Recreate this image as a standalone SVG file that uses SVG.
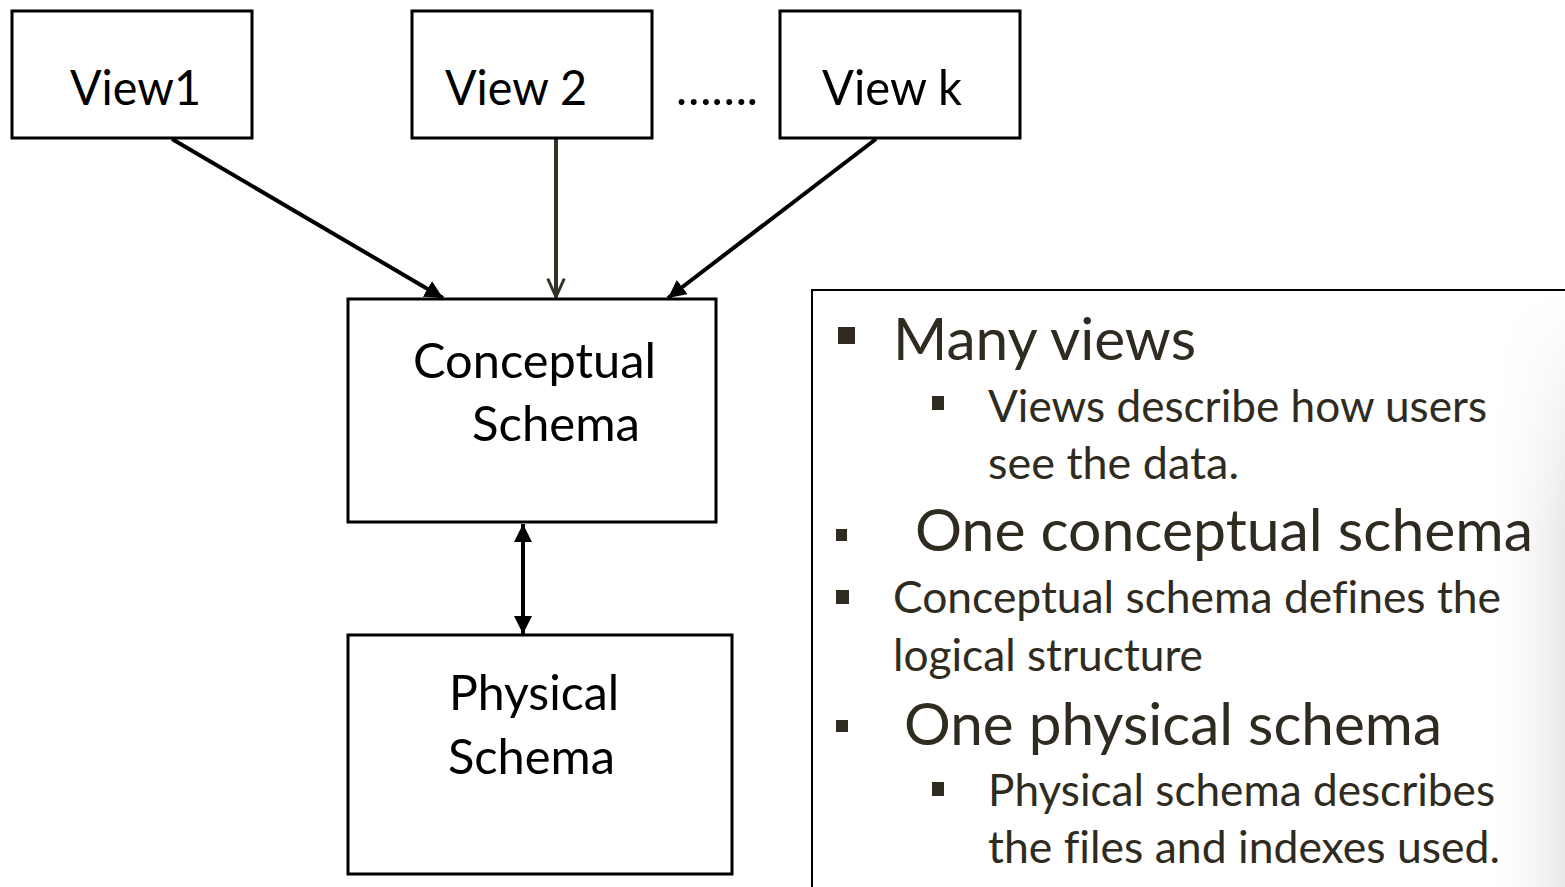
<svg xmlns="http://www.w3.org/2000/svg" width="1565" height="887" viewBox="0 0 1565 887">
<style>
.box{fill:#fff;stroke:#000;stroke-width:3}
.lbl{font-family:Lato,"Open Sans","Liberation Sans",sans-serif;font-size:49px;fill:#000;font-variant-ligatures:none}
.txt{font-family:Lato,"Open Sans","Liberation Sans",sans-serif;fill:#2f2b20;font-variant-ligatures:none}
.big{font-size:58px}
.sm{font-size:44px}
.bul{fill:#2f2b20}
.conn{fill:none;stroke-width:4}
</style>
<defs>
<linearGradient id="fade" x1="0" y1="0" x2="1" y2="0">
<stop offset="0" stop-color="#ffffff" stop-opacity="0"/>
<stop offset="1" stop-color="#e8e8e8" stop-opacity="1"/>
</linearGradient>
<linearGradient id="fadeV" x1="0" y1="0" x2="0" y2="1">
<stop offset="0" stop-color="#fff" stop-opacity="1"/>
<stop offset="1" stop-color="#fff" stop-opacity="0"/>
</linearGradient>
<marker id="solid" viewBox="0 0 10 10" refX="10" refY="5" markerWidth="4.5" markerHeight="4.5" orient="auto-start-reverse" markerUnits="strokeWidth">
<path d="M0,0 L10,5 L0,10 z" fill="#000"/>
</marker>
<marker id="open" viewBox="0 0 12 12" refX="11" refY="6" markerWidth="5.5" markerHeight="5.5" orient="auto" markerUnits="strokeWidth">
<path d="M1,1.5 L11,6 L1,10.5" fill="none" stroke="#333028" stroke-width="1.6"/>
</marker>
</defs>
<rect width="1565" height="887" fill="#fff"/>

<g id="connectors">
<line class="conn" stroke="#000" x1="172" y1="139" x2="443" y2="298" marker-end="url(#solid)"/>
<line class="conn" stroke="#333028" x1="556" y1="139" x2="556" y2="297" marker-end="url(#open)"/>
<line class="conn" stroke="#000" x1="876" y1="139" x2="668" y2="298" marker-end="url(#solid)"/>
<line class="conn" stroke="#000" x1="523" y1="524" x2="523" y2="634" marker-start="url(#solid)" marker-end="url(#solid)"/>
</g>

<g id="view1">
<rect class="box" x="12" y="11" width="240" height="127"/>
<text class="lbl" x="70" y="105" textLength="131" lengthAdjust="spacingAndGlyphs">View1</text>
</g>
<g id="view2">
<rect class="box" x="412" y="11" width="240" height="127"/>
<text class="lbl" x="445" y="105" textLength="142" lengthAdjust="spacingAndGlyphs">View 2</text>
</g>
<g id="dots">
<text class="lbl" x="676" y="105" textLength="82" lengthAdjust="spacingAndGlyphs">…….</text>
</g>
<g id="viewk">
<rect class="box" x="780" y="11" width="240" height="127"/>
<text class="lbl" x="822" y="105" textLength="140" lengthAdjust="spacingAndGlyphs">View k</text>
</g>
<g id="conceptual">
<rect class="box" x="348" y="299" width="368" height="223"/>
<text class="lbl" x="413" y="378" textLength="243" lengthAdjust="spacingAndGlyphs">Conceptual</text>
<text class="lbl" x="472" y="441" textLength="168" lengthAdjust="spacingAndGlyphs">Schema</text>
</g>
<g id="physical">
<rect class="box" x="348" y="635" width="384" height="239"/>
<text class="lbl" x="449" y="710" textLength="170" lengthAdjust="spacingAndGlyphs">Physical</text>
<text class="lbl" x="448" y="774" textLength="167" lengthAdjust="spacingAndGlyphs">Schema</text>
</g>

<g id="notes">
<rect x="812" y="290" width="760" height="610" fill="#fff" stroke="#000" stroke-width="2"/>
<rect x="1480" y="292" width="85" height="595" fill="url(#fade)"/>
<rect x="1480" y="292" width="85" height="240" fill="url(#fadeV)"/>
<rect class="bul" x="838" y="327" width="17" height="17"/>
<text class="txt big" x="893" y="360" textLength="303" lengthAdjust="spacingAndGlyphs">Many views</text>
<rect class="bul" x="932" y="396" width="12" height="14"/>
<text class="txt sm" x="988" y="422" textLength="499" lengthAdjust="spacingAndGlyphs">Views describe how users</text>
<text class="txt sm" x="988" y="479" textLength="251" lengthAdjust="spacingAndGlyphs">see the data.</text>
<rect class="bul" x="836" y="529" width="11" height="12"/>
<text class="txt big" x="915" y="551" textLength="618" lengthAdjust="spacingAndGlyphs">One conceptual schema</text>
<rect class="bul" x="836" y="590" width="13" height="14"/>
<text class="txt sm" x="893" y="613" textLength="608" lengthAdjust="spacingAndGlyphs">Conceptual schema defines the</text>
<text class="txt sm" x="893" y="671" textLength="310" lengthAdjust="spacingAndGlyphs">logical structure</text>
<rect class="bul" x="836" y="720" width="12" height="12"/>
<text class="txt big" x="904" y="745" textLength="538" lengthAdjust="spacingAndGlyphs">One physical schema</text>
<rect class="bul" x="932" y="782" width="12" height="14"/>
<text class="txt sm" x="988" y="806" textLength="507" lengthAdjust="spacingAndGlyphs">Physical schema describes</text>
<text class="txt sm" x="988" y="863" textLength="512" lengthAdjust="spacingAndGlyphs">the files and indexes used.</text>
</g>
</svg>
